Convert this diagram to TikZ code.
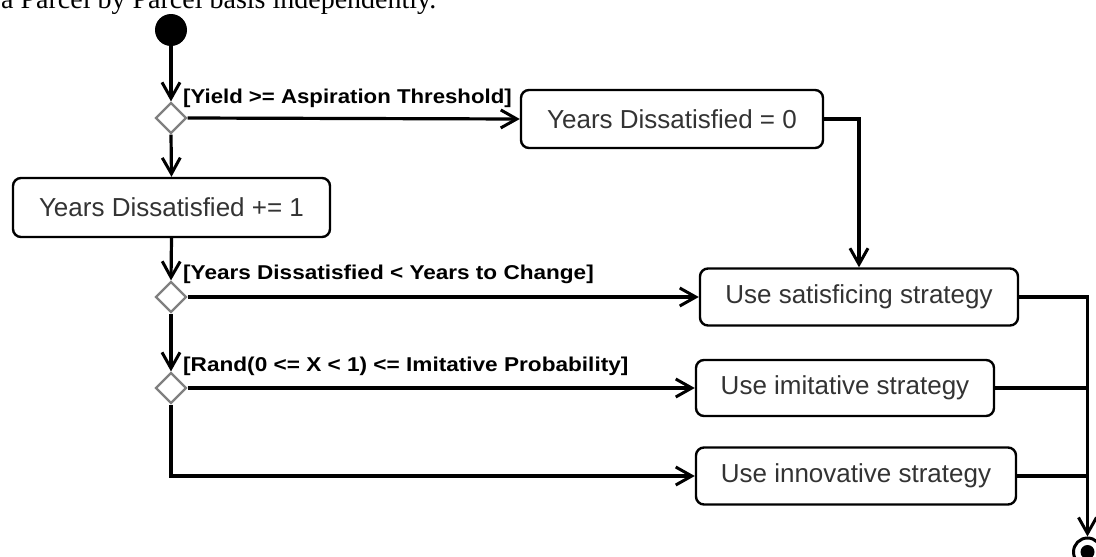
\documentclass[tikz,border=0pt]{standalone}
\usepackage{fontspec}
\setmainfont{Liberation Sans}
\newfontfamily\serifface{Liberation Serif}
\usetikzlibrary{shapes.geometric,arrows.meta}
\newcommand\lbltext[2][1.10]{\scalebox{#1}[1]{#2}}
\tikzset{
  flow/.style={line width=3.2pt, -{Straight Barb[length=16pt,width=18pt,line width=3pt]}},
  joinline/.style={line width=3.2pt},
  actbox/.style={draw=black, line width=2.4pt, rounded corners=8pt, fill=white,
    inner sep=0pt, text=black!80, font=\fontsize{26}{26}\selectfont},
  decis/.style={diamond, aspect=1, draw=black!50, line width=2.2pt, fill=white,
    minimum width=31pt, minimum height=31pt, inner sep=0pt},
  guard/.style={anchor=base west, inner sep=0pt, font=\bfseries\fontsize{20}{20}\selectfont},
}
\begin{document}
\begin{tikzpicture}[x=1pt,y=-1pt]
\useasboundingbox (0,0) rectangle (1096,557);
\clip (0,0) rectangle (1096,557);
\node[anchor=base west, inner sep=0pt, font=\serifface\fontsize{28}{28}\selectfont] (cap) at (1,8) {a Parcel by Parcel basis independently.};
% nodes
\node[circle, fill=black, minimum size=32pt, inner sep=0pt] (start) at (171,30) {};
\node[decis] (d1) at (171,118) {};
\node[actbox, minimum width=302pt, minimum height=58pt] (zero) at (672,119) {Years Dissatisfied = 0};
\node[actbox, minimum width=317pt, minimum height=59pt] (inc) at (171.5,207.5) {Years Dissatisfied += 1};
\node[decis] (d2) at (171,297) {};
\node[decis] (d3) at (171,388) {};
\node[actbox, minimum width=318pt, minimum height=57pt] (sat) at (859,297) {Use satisficing strategy};
\node[actbox, minimum width=298pt, minimum height=56pt] (imi) at (845,388) {Use imitative strategy};
\node[actbox, minimum width=320pt, minimum height=57pt] (inn) at (856,476) {Use innovative strategy};
\node[circle, draw=black, line width=3pt, fill=white, minimum size=28pt, inner sep=0pt] (fin) at (1087.5,552) {};
\node[circle, fill=black, minimum size=14pt, inner sep=0pt] (finc) at (fin.center) {};
% guards
\node[guard] (g1) at (183,103) {\lbltext[1.11]{[Yield >= Aspiration Threshold]}};
\node[guard] (g2) at (183,279) {\lbltext[1.128]{[Years Dissatisfied < Years to Change]}};
\node[guard] (g3) at (183,371) {\lbltext[1.13]{[Rand(0 <= X < 1) <= Imitative Probability]}};
% connectors
\draw[flow] (start) -- (d1.north);
\draw[flow] (d1.east) -- (zero.west);
\draw[flow] (d1.south) -- (inc.north);
\draw[flow] (zero.east) -| (sat.north);
\draw[flow] (inc.south) -- (d2.north);
\draw[flow] (d2.east) -- (sat.west);
\draw[flow] (d2.south) -- (d3.north);
\draw[flow] (d3.east) -- (imi.west);
\draw[flow] (d3.south) |- (inn.west);
\draw[flow] (sat.east) -| (fin.north);
\draw[joinline] (imi.east) -- (imi.east -| fin.north);
\draw[joinline] (inn.east) -- (inn.east -| fin.north);
\end{tikzpicture}
\end{document}
